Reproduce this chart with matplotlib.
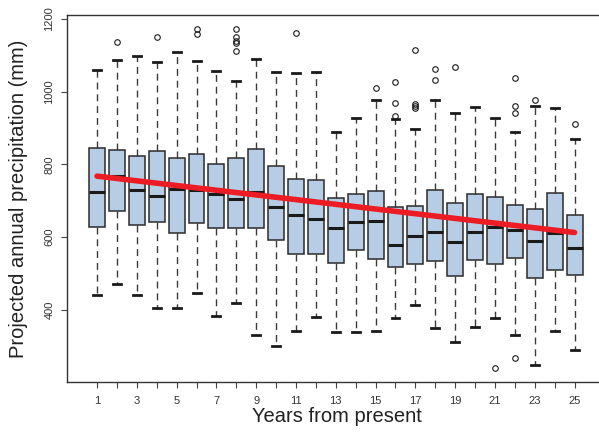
import matplotlib
matplotlib.use("Agg")
import matplotlib.pyplot as plt

plt.rcParams['font.family'] = ['Liberation Sans', 'DejaVu Sans']

# Box statistics, one value per year (1..25)
years = list(range(1, 26))
whisker_low = [441, 472, 441, 406, 406, 447, 384, 419, 331, 300, 342, 382, 340,
               340, 342, 379, 414, 351, 312, 354, 377, 331, 250, 343, 290]
q1 = [629, 673, 633, 641, 611, 638, 626, 626, 626, 593, 553, 554, 528,
      564, 541, 519, 527, 535, 494, 537, 527, 543, 488, 511, 497]
median = [724, 769, 730, 713, 732, 730, 720, 706, 725, 684, 662, 650, 626,
          641, 645, 580, 603, 615, 587, 614, 627, 619, 590, 611, 571]
q3 = [844, 840, 824, 837, 818, 830, 801, 818, 842, 797, 761, 757, 709,
      720, 728, 684, 686, 731, 693, 719, 710, 688, 677, 722, 662]
whisker_high = [1060, 1087, 1098, 1082, 1109, 1085, 1057, 1030, 1090, 1055, 1052, 1055, 889,
                929, 976, 926, 898, 978, 942, 958, 929, 889, 962, 956, 871]
outliers = [[], [1138], [], [1151], [], [1172, 1158], [], [1173, 1150, 1140, 1133, 1113],
            [], [], [1162], [], [], [], [1010], [1027, 970, 933],
            [1115, 965, 961, 956], [1062, 1033], [1069], [], [241],
            [1037, 960, 942, 267], [978], [], [910]]

# red trend line end points
trend_years = [1, 25]
trend_values = [768, 613]

stats = []
for i in range(len(years)):
    stats.append({
        "whislo": whisker_low[i], "q1": q1[i], "med": median[i],
        "q3": q3[i], "whishi": whisker_high[i], "fliers": outliers[i],
    })

fig = plt.figure(figsize=(5.99, 4.32), dpi=100)
ax = fig.add_axes([67 / 599, 1 - 382 / 432, 540 / 599, 367 / 432])

ax.bxp(stats, positions=years, widths=0.8, patch_artist=True,
       boxprops=dict(facecolor="#b7cde5", edgecolor="#2b2b2b", linewidth=1.1),
       medianprops=dict(color="#1a1a1a", linewidth=2.2),
       whiskerprops=dict(color="#3a3a3a", linewidth=1.0, linestyle=(0, (5, 3.5))),
       capprops=dict(color="#1a1a1a", linewidth=2.0),
       capwidths=0.4,
       flierprops=dict(marker="o", markersize=4, markerfacecolor="none",
                       markeredgecolor="#1a1a1a", markeredgewidth=0.8))

ax.plot(trend_years, trend_values, color="#ec1c24", linewidth=4, solid_capstyle="round", zorder=5)

ax.set_xlim(-0.51, 26.63)
ax.set_ylim(202, 1211)
ax.set_xticks(years)
ax.set_xticklabels([str(y) if y % 2 == 1 else "" for y in years])
ax.set_yticks([400, 600, 800, 1000, 1200])
ax.set_yticklabels(["400", "600", "800", "1000", "1200"], rotation=90, va="center")

ax.spines["right"].set_visible(False)
for s in ["left", "bottom", "top"]:
    ax.spines[s].set_color("#333333")
    ax.spines[s].set_linewidth(1.0)
ax.tick_params(axis="both", direction="out", length=4, width=0.8, color="#444444",
               labelsize=8, labelcolor="#333333")
ax.tick_params(axis="x", pad=6)
ax.tick_params(axis="y", pad=5)

ax.set_xlabel("Years from present", fontsize=14.5, color="#222222", labelpad=1)
ax.set_ylabel("Projected annual precipitation (mm)", fontsize=14.5, color="#222222", labelpad=12)

fig.savefig("out.png", dpi=100)
